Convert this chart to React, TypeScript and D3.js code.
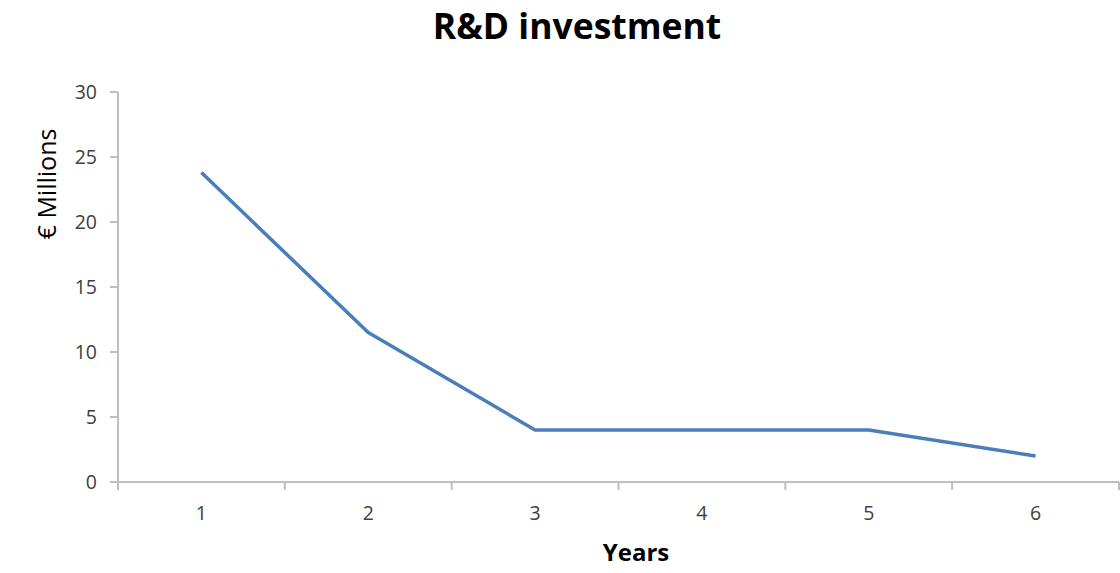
import React from "react";
import * as d3 from "d3";

const years = ["1", "2", "3", "4", "5", "6"];
const investment = [23.8, 11.5, 4, 4, 4, 2];
const yTicks = [0, 5, 10, 15, 20, 25, 30];
const title = "R&D investment";
const xTitle = "Years";
const yTitle = "€ Millions";

export default function App() {
  const W = 1120, H = 573;
  const left = 118, right = 1119, top = 92, bottom = 482;
  const x = d3.scaleBand<string>().domain(years).range([left, right]);
  const y = d3.scaleLinear().domain([0, 30]).range([bottom, top]);
  const line = d3
    .line<number>()
    .x((_, i) => (x(years[i]) as number) + x.bandwidth() / 2)
    .y((d) => y(d));
  const boundaries = [...years.map((c) => x(c) as number), right];
  const axisColor = "#bfbfbf";
  const font = "'Open Sans', 'Noto Sans', sans-serif";
  return (
    <svg
      width={W}
      height={H}
      style={{ position: "absolute", left: 0, top: 0, background: "#fff" }}
      fontFamily={font}
    >
      <text x={577} y={39} textAnchor="middle" fontSize={35.5} fontWeight="bold" fill="#000">
        {title}
      </text>
      {/* y axis */}
      <line x1={left} x2={left} y1={top} y2={bottom} stroke={axisColor} strokeWidth={2} />
      {yTicks.map((t) => (
        <g key={t}>
          <line x1={left - 8} x2={left} y1={y(t)} y2={y(t)} stroke={axisColor} strokeWidth={2} />
          <text x={left - 21} y={y(t)} dy="0.35em" textAnchor="end" fontSize={19.5} fill="#404040">
            {t}
          </text>
        </g>
      ))}
      {/* x axis */}
      <line x1={left} x2={right} y1={bottom} y2={bottom} stroke={axisColor} strokeWidth={2} />
      {boundaries.map((b, i) => (
        <line key={i} x1={b} x2={b} y1={bottom} y2={bottom + 8} stroke={axisColor} strokeWidth={2} />
      ))}
      {years.map((c) => (
        <text
          key={c}
          x={(x(c) as number) + x.bandwidth() / 2}
          y={513}
          dy="0.35em"
          textAnchor="middle"
          fontSize={19.5}
          fill="#404040"
        >
          {c}
        </text>
      ))}
      <text x={636} y={561} textAnchor="middle" fontSize={24} fontWeight="bold" fill="#000">
        {xTitle}
      </text>
      <text
        transform={`translate(56, 184) rotate(-90)`}
        textAnchor="middle"
        fontSize={25}
        fill="#000"
      >
        {yTitle}
      </text>
      <path d={line(investment) as string} fill="none" stroke="#4a7ebb" strokeWidth={3.5} strokeLinejoin="round" />
    </svg>
  );
}
